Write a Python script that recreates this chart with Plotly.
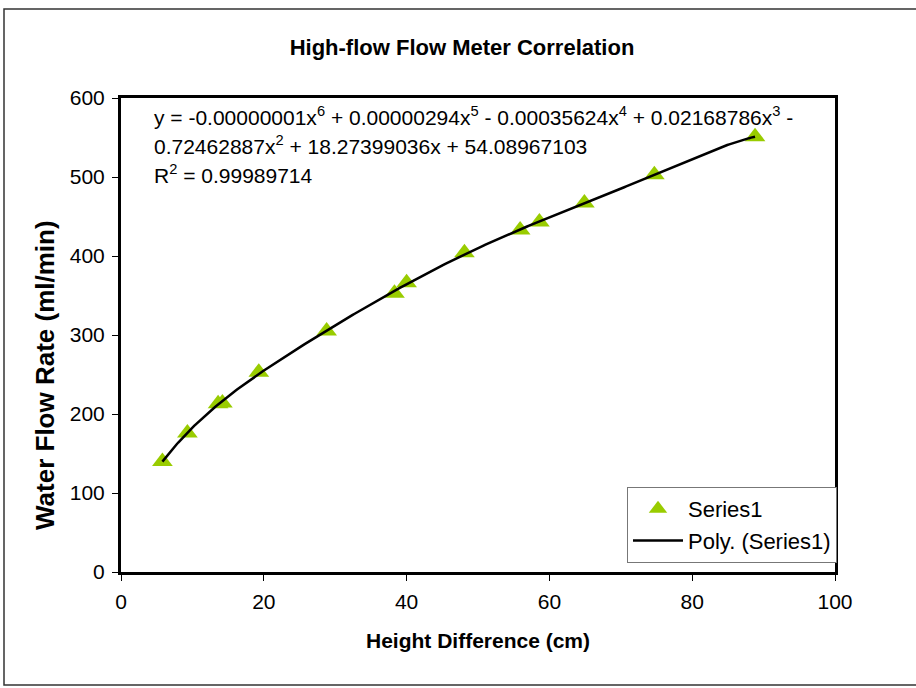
import numpy as np
import plotly.graph_objects as go

# Measured height difference (cm) and water flow rate (ml/min)
height_cm = [5.8, 9.3, 13.6, 14.2, 19.3, 28.8, 38.3, 40.0, 48.1, 55.9, 58.6, 64.9, 74.7, 88.8]
flow_ml_min = [140, 176, 213, 214, 253, 305, 353, 366, 404, 433, 443, 467, 503, 551]

x_ticks = [0, 20, 40, 60, 80, 100]
y_ticks = [0, 100, 200, 300, 400, 500, 600]

equation_lines = [
    "y = -0.00000001x<sup>6</sup> + 0.00000294x<sup>5</sup> - 0.00035624x<sup>4</sup> + 0.02168786x<sup>3</sup> -",
    "0.72462887x<sup>2</sup> + 18.27399036x + 54.08967103",
    "R<sup>2</sup> = 0.99989714",
]

# 6th-order polynomial trendline fitted to the measurements
coeffs = np.polyfit(height_cm, flow_ml_min, 6)
x_fit = np.linspace(min(height_cm), max(height_cm), 300)
y_fit = np.polyval(coeffs, x_fit)

FONT = "Liberation Sans, Arial, sans-serif"
W, H = 916, 688
L, R, T, B = 121, 81, 98, 116
pw, ph = W - L - R, H - T - B


def px_x(p):
    return (p - L) / pw


def px_y(p):
    return (H - B - p) / ph


fig = go.Figure()
fig.add_trace(go.Scatter(
    x=height_cm, y=flow_ml_min, mode="markers", name="Series1",
    marker=dict(symbol="triangle-up", size=18, color="#99CC00", line=dict(width=0)),
))
fig.add_trace(go.Scatter(
    x=x_fit, y=y_fit, mode="lines", name="Poly. (Series1)",
    line=dict(color="black", width=2.5),
))

annotations = []
for i, line in enumerate(equation_lines):
    annotations.append(dict(
        text=line, xref="paper", yref="paper", x=px_x(152), y=px_y(116 + 29 * i),
        xanchor="left", yanchor="middle", showarrow=False,
        font=dict(family=FONT, size=21, color="black"),
    ))
annotations.append(dict(
    text="Height Difference (cm)", xref="paper", yref="paper", x=0.5, y=px_y(640),
    xanchor="center", yanchor="middle", showarrow=False,
    font=dict(family=FONT, size=21, color="black", weight="bold"),
))
annotations.append(dict(
    text="Water Flow Rate (ml/min)", xref="paper", yref="paper", x=px_x(45), y=px_y(375),
    xanchor="center", yanchor="middle", showarrow=False, textangle=-90,
    font=dict(family=FONT, size=26, color="black", weight="bold"),
))

fig.update_layout(
    width=W, height=H,
    margin=dict(l=L, r=R, t=T, b=B),
    paper_bgcolor="white", plot_bgcolor="white",
    title=dict(
        text="High-flow Flow Meter Correlation",
        x=462 / W, xref="container", xanchor="center",
        y=1 - 47 / H, yref="container", yanchor="middle",
        font=dict(family=FONT, size=22, color="black", weight="bold"),
    ),
    xaxis=dict(
        range=[0, 100], tickvals=x_ticks, showgrid=False, zeroline=False,
        showline=True, linecolor="black", linewidth=3, mirror=True,
        ticks="outside", ticklen=6, tickwidth=1, tickcolor="black",
        ticklabelstandoff=3,
        tickfont=dict(family=FONT, size=21, color="black"),
    ),
    yaxis=dict(
        range=[0, 600], tickvals=y_ticks, showgrid=False, zeroline=False,
        showline=True, linecolor="black", linewidth=3, mirror=True,
        ticks="outside", ticklen=6, tickwidth=1, tickcolor="black",
        ticklabelstandoff=3,
        tickfont=dict(family=FONT, size=21, color="black"),
    ),
    showlegend=True,
    legend=dict(
        x=px_x(627), y=px_y(487), xanchor="left", yanchor="top",
        bgcolor="white", bordercolor="#777777", borderwidth=1,
        font=dict(family=FONT, size=22, color="black"),
        itemwidth=50, tracegroupgap=0,
    ),
    annotations=annotations,
    shapes=[dict(
        type="rect", xref="paper", yref="paper",
        x0=px_x(4), x1=px_x(925), y0=px_y(685), y1=px_y(9),
        line=dict(color="#333333", width=1.5), fillcolor="rgba(0,0,0,0)", layer="below",
    )],
)

fig.write_html("out.html")
